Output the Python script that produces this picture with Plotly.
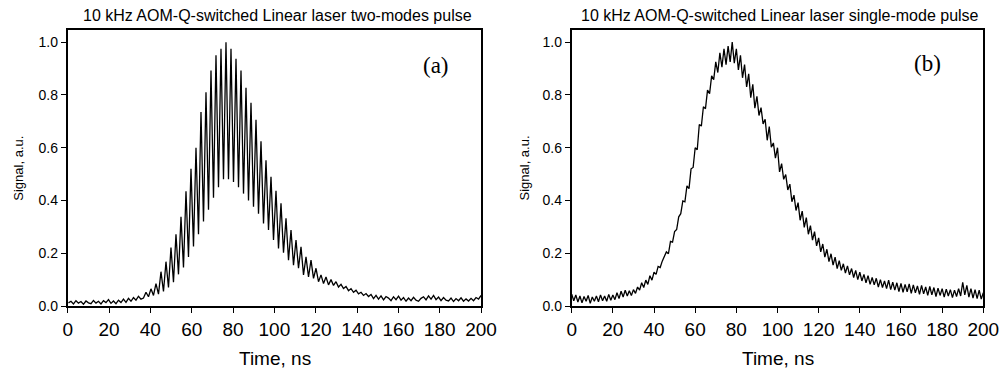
import plotly.graph_objects as go
from plotly.subplots import make_subplots

# ---------------- data ----------------
# Panel (a): two-modes pulse, sampled every half beat period
TIME_A_START = 0.37   # ns
TIME_A_STEP = 1.21    # ns
signal_a = [
    0.012, 0.018, 0.008, 0.020, 0.011, 0.017, 0.007, 0.019, 0.012, 0.009,
    0.021, 0.011, 0.018, 0.008, 0.020, 0.013, 0.024, 0.010, 0.019, 0.009,
    0.022, 0.013, 0.026, 0.014, 0.029, 0.018, 0.032, 0.022, 0.037, 0.026,
    0.030, 0.052, 0.035, 0.065, 0.040, 0.085, 0.045, 0.130, 0.055, 0.168,
    0.070, 0.222, 0.090, 0.272, 0.120, 0.338, 0.146, 0.435, 0.186, 0.520,
    0.226, 0.600, 0.272, 0.735, 0.320, 0.810, 0.365, 0.893, 0.410, 0.950,
    0.450, 0.975, 0.480, 1.000, 0.480, 0.975, 0.470, 0.937, 0.450, 0.893,
    0.426, 0.827, 0.400, 0.770, 0.376, 0.706, 0.350, 0.624, 0.313, 0.552,
    0.288, 0.490, 0.250, 0.437, 0.218, 0.389, 0.202, 0.332, 0.174, 0.288,
    0.155, 0.250, 0.143, 0.224, 0.118, 0.186, 0.110, 0.174, 0.105, 0.143,
    0.092, 0.118, 0.085, 0.110, 0.080, 0.100, 0.078, 0.092, 0.072, 0.082,
    0.066, 0.074, 0.058, 0.066, 0.052, 0.060, 0.046, 0.052, 0.040, 0.047,
    0.036, 0.044, 0.028, 0.040, 0.026, 0.038, 0.023, 0.036, 0.030, 0.020,
    0.035, 0.024, 0.037, 0.022, 0.032, 0.018, 0.030, 0.020, 0.033, 0.022,
    0.018, 0.029, 0.035, 0.023, 0.038, 0.026, 0.040, 0.024, 0.034, 0.020,
    0.032, 0.022, 0.019, 0.030, 0.017, 0.028, 0.020, 0.031, 0.018, 0.027,
    0.019, 0.029, 0.020, 0.032, 0.026, 0.040,
]
time_a = [TIME_A_START + TIME_A_STEP * i for i in range(len(signal_a))]

# Panel (b): single-mode pulse, sampled every 1 ns from 0 to 200 ns
TIME_B_STEP = 1.0
signal_b = [
    0.045, 0.020, 0.042, 0.015, 0.038, 0.012, 0.036, 0.018, 0.040, 0.010,
    0.034, 0.018, 0.038, 0.016, 0.042, 0.020, 0.038, 0.018, 0.044, 0.022,
    0.042, 0.024, 0.050, 0.028, 0.056, 0.034, 0.060, 0.038, 0.058, 0.040,
    0.062, 0.048, 0.072, 0.060, 0.088, 0.070, 0.098, 0.082, 0.115, 0.098,
    0.128, 0.120, 0.150, 0.146, 0.170, 0.185, 0.205, 0.198, 0.245, 0.242,
    0.282, 0.290, 0.338, 0.350, 0.398, 0.395, 0.455, 0.445, 0.520, 0.525,
    0.600, 0.592, 0.688, 0.682, 0.755, 0.748, 0.818, 0.805, 0.872, 0.858,
    0.925, 0.885, 0.960, 0.905, 0.975, 0.915, 0.985, 0.925, 1.000, 0.920,
    0.975, 0.895, 0.950, 0.865, 0.915, 0.830, 0.880, 0.790, 0.840, 0.750,
    0.795, 0.722, 0.752, 0.690, 0.708, 0.628, 0.680, 0.602, 0.618, 0.560,
    0.600, 0.508, 0.540, 0.480, 0.498, 0.440, 0.462, 0.395, 0.420, 0.362,
    0.392, 0.325, 0.360, 0.298, 0.335, 0.272, 0.305, 0.250, 0.282, 0.228,
    0.258, 0.205, 0.235, 0.185, 0.215, 0.168, 0.198, 0.155, 0.185, 0.142,
    0.172, 0.135, 0.160, 0.125, 0.152, 0.118, 0.142, 0.108, 0.135, 0.100,
    0.128, 0.095, 0.120, 0.088, 0.115, 0.082, 0.108, 0.080, 0.105, 0.072,
    0.100, 0.070, 0.095, 0.066, 0.098, 0.062, 0.090, 0.060, 0.088, 0.055,
    0.086, 0.052, 0.082, 0.054, 0.084, 0.048, 0.080, 0.050, 0.076, 0.044,
    0.078, 0.046, 0.072, 0.040, 0.074, 0.042, 0.070, 0.036, 0.068, 0.040,
    0.066, 0.034, 0.064, 0.038, 0.062, 0.032, 0.060, 0.036, 0.066, 0.038,
    0.090, 0.042, 0.078, 0.034, 0.066, 0.030, 0.062, 0.028, 0.060, 0.026,
    0.050,
]
time_b = [TIME_B_STEP * i for i in range(len(signal_b))]

x_ticks = [0, 20, 40, 60, 80, 100, 120, 140, 160, 180, 200]
y_ticks = [0.0, 0.2, 0.4, 0.6, 0.8, 1.0]
titles = ["10 kHz AOM-Q-switched Linear laser two-modes pulse",
          "10 kHz AOM-Q-switched Linear laser single-mode pulse"]
panel_labels = ["(a)", "(b)"]
x_title = "Time, ns"
y_title = "Signal, a.u."

# ---------------- figure ----------------
W, H = 1002, 370
SANS = "Liberation Sans"
SERIF = "Liberation Serif"

fig = make_subplots(rows=1, cols=2)

fig.add_trace(go.Scatter(x=time_a, y=signal_a, mode="lines",
                         line=dict(color="black", width=1.3), showlegend=False), row=1, col=1)
fig.add_trace(go.Scatter(x=time_b, y=signal_b, mode="lines",
                         line=dict(color="black", width=1.3), showlegend=False), row=1, col=2)

def px_x(p):
    return p / W

def px_y(p):
    return 1 - p / H

axis_common = dict(showline=True, linecolor="black", linewidth=1.8, mirror=True,
                   ticks="outside", ticklen=5, tickwidth=1, tickcolor="black",
                   showgrid=False, zeroline=False, automargin=False)

fig.update_xaxes(range=[0, 200], tickvals=x_ticks,
                 tickfont=dict(family=SANS, size=19, color="black"),
                 **axis_common)
fig.update_yaxes(range=[0, 1.048], tickvals=y_ticks, tickformat=".1f",
                 tickfont=dict(family=SANS, size=14, color="black"),
                 **axis_common)

fig.update_layout(
    width=W, height=H,
    margin=dict(l=0, r=0, t=0, b=0, pad=0, autoexpand=False),
    paper_bgcolor="white", plot_bgcolor="white",
    font=dict(family=SANS, color="black"),
    xaxis=dict(domain=[px_x(67.7), px_x(481)]),
    xaxis2=dict(domain=[px_x(571.7), px_x(983.3)]),
    yaxis=dict(domain=[px_y(306), px_y(29.5)]),
    yaxis2=dict(domain=[px_y(306), px_y(29.5)]),
)

annots = []
for i, (cx, tx, lx, ly, ylx) in enumerate([(277, 274.5, 435.7, 65.5, 17.7),
                                            (779.5, 778, 927.3, 63.5, 523.5)]):
    annots.append(dict(text=titles[i], x=px_x(cx), y=px_y(15), xref="paper", yref="paper",
                       xanchor="center", yanchor="middle", showarrow=False,
                       font=dict(family=SANS, size=16, color="black")))
    annots.append(dict(text=x_title, x=px_x(tx), y=px_y(358), xref="paper", yref="paper",
                       xanchor="center", yanchor="middle", showarrow=False,
                       font=dict(family=SANS, size=19, color="black")))
    annots.append(dict(text=y_title, x=px_x(ylx), y=px_y(168), xref="paper", yref="paper",
                       xanchor="center", yanchor="middle", showarrow=False, textangle=-90,
                       font=dict(family=SANS, size=13, color="black")))
    annots.append(dict(text=panel_labels[i], x=px_x(lx), y=px_y(ly), xref="paper", yref="paper",
                       xanchor="center", yanchor="middle", showarrow=False,
                       font=dict(family=SERIF, size=23, color="black")))
fig.update_layout(annotations=annots)

fig.write_html(
    "out.html",
    config={"displayModeBar": False},
    post_script="document.body.style.margin='0px';document.body.style.padding='0px';"
                "document.body.style.overflow='hidden';",
)
